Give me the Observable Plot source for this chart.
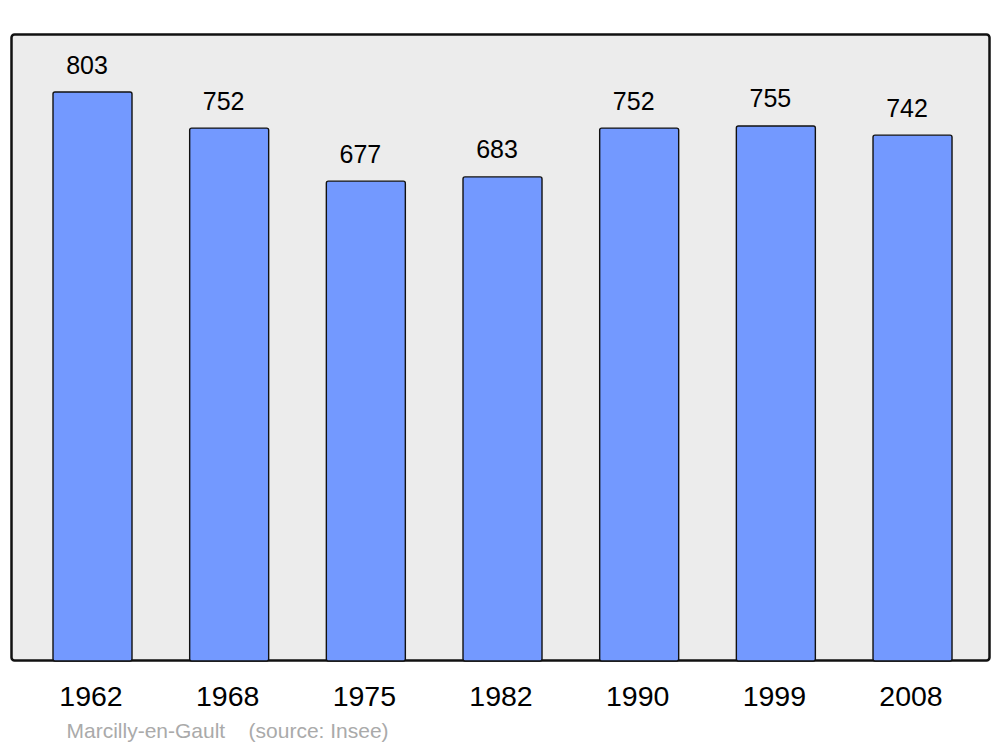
<!DOCTYPE html>
<html>
<head>
<meta charset="utf-8">
<script src="https://cdn.jsdelivr.net/npm/d3@7"></script>
<script src="https://cdn.jsdelivr.net/npm/@observablehq/plot@0.6"></script>
<style>
  html, body { margin: 0; padding: 0; background: #fff; }
  #chart svg { display: block; font-family: "Liberation Sans", Arial, sans-serif; }
</style>
</head>
<body>
<div id="chart"></div>
<script>
const years = ["1962", "1968", "1975", "1982", "1990", "1999", "2008"];
const population = [803, 752, 677, 683, 752, 755, 742];
const caption = "Marcilly-en-Gault\u00a0\u00a0\u00a0\u00a0(source: Insee)";

const data = years.map((y, i) => ({year: y, value: population[i]}));

// band geometry: step 136.67, bandwidth 79
const step = 136.67, pi = 1 - 79 / step, po = 0.3;
const r0 = 53 - po * step;
const r1 = r0 + step * (years.length - pi + 2 * po);

const chart = Plot.plot({
  width: 1000,
  height: 747,
  marginTop: 34,
  marginBottom: 87,
  marginLeft: 11,
  marginRight: 11,
  style: {fontFamily: "'Liberation Sans', Arial, sans-serif", background: "#fff"},
  x: {type: "band", domain: years, range: [r0, r1], paddingInner: pi, paddingOuter: po, round: false, label: null},
  y: {domain: [0, 885], axis: null},
  marks: [
    Plot.frame({fill: "#ececec", stroke: "#111", strokeWidth: 2.5, rx: 3}),
    Plot.barY(data, {x: "year", y: "value", fill: "#7399ff", stroke: "#111", strokeWidth: 1.4, rx: 2, insetBottom: -1}),
    Plot.text(data, {x: "year", y: "value", text: d => String(d.value), fontSize: 25, fill: "#000", lineAnchor: "bottom", dy: -19, dx: -6}),
    Plot.axisX({tickSize: 0, tickPadding: 25, fontSize: 28.5, dx: -2, color: "#000"}),
    Plot.text([caption], {frameAnchor: "bottom-left", text: d => d, dx: 55, dy: 77, lineAnchor: "bottom", textAnchor: "start", fontSize: 21, fill: "#aaaaaa"})
  ]
});
document.getElementById("chart").appendChild(chart);
</script>
</body>
</html>
